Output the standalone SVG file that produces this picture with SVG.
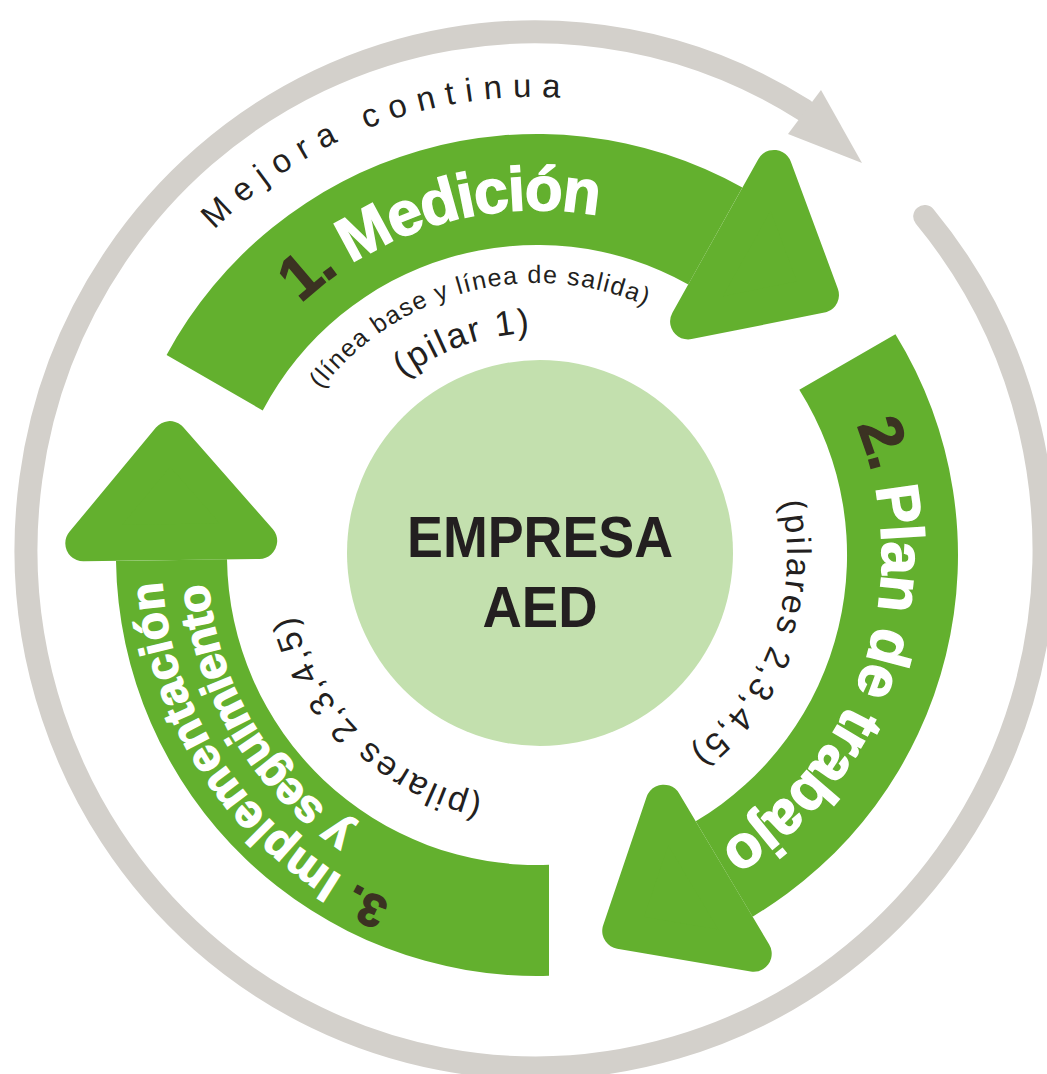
<svg xmlns="http://www.w3.org/2000/svg" xmlns:xlink="http://www.w3.org/1999/xlink" width="1047" height="1074" viewBox="0 0 1047 1074">
<style>
.green{fill:#63b02e}
.headp{fill:#63b02e;stroke:#63b02e;stroke-width:36;stroke-linejoin:round}
.big{font-family:"Liberation Sans",Arial,sans-serif;font-weight:700;fill:#ffffff;stroke:#ffffff;stroke-width:1.4}
.num{fill:#3b3222;stroke:#3b3222}
.thin{font-family:"Liberation Sans",Arial,sans-serif;font-weight:400;fill:#231f20}
.center{font-family:"Liberation Sans",Arial,sans-serif;font-weight:700;fill:#231f20}
</style>
<defs>
<g id="arrowShape">
<path d="M549,975.8 A421,421 0 0 1 116.0,560.9 L227.0,559.3 A310,310 0 0 0 549,864.8 Z" class="green"/>
<polygon points="83.3,543.3 169.8,439.1 259.2,540.9" class="headp"/>
</g>
<path id="c345" d="M192,555 A345,345 0 1 1 882,555 A345,345 0 1 1 192,555"/>
<path id="c272" d="M265,555 A272,272 0 1 1 809,555 A272,272 0 1 1 265,555"/>
<path id="c222" d="M315,555 A222,222 0 1 1 759,555 A222,222 0 1 1 315,555"/>
<path id="c250" d="M287,555 A250,250 0 1 1 787,555 A250,250 0 1 1 287,555"/>
<path id="c376" d="M161,555 A376,376 0 1 1 913,555 A376,376 0 1 1 161,555"/>
<path id="c330" d="M207,555 A330,330 0 1 1 867,555 A330,330 0 1 1 207,555"/>
<path id="c449" d="M84,546 A449,449 0 1 1 982,546 A449,449 0 1 1 84,546"/>
</defs>
<rect width="1047" height="1074" fill="#ffffff"/>
<g id="connectors">
<g id="mejora-continua">
<path d="M924.7,216.5 A509,518 0 1 1 804,110" fill="none" stroke="#d3d0cb" stroke-width="23" stroke-linecap="round"/>
<polygon points="821,90 862,163 788,134" fill="#d3d0cb"/>
<text class="thin" font-size="33"><textPath href="#c449" startOffset="19.2%" text-anchor="middle" textLength="382" lengthAdjust="spacing">Mejora continua</textPath></text>
</g>
</g>
<g id="empresa">
<circle cx="540" cy="553" r="193" fill="#c3e0ae"/>
<text class="center" x="540" y="557" font-size="58" text-anchor="middle" textLength="266" lengthAdjust="spacingAndGlyphs">EMPRESA</text>
<text class="center" x="540" y="627" font-size="58" text-anchor="middle" textLength="115" lengthAdjust="spacingAndGlyphs">AED</text>
</g>
<g id="medicion">
<use href="#arrowShape" transform="rotate(120 537 555)"/>
<text class="big" font-size="62"><textPath href="#c345" startOffset="20.42%" text-anchor="middle" textLength="322" lengthAdjust="spacing"><tspan class="num">1.</tspan> Medición</textPath></text>
<text class="thin" font-size="25"><textPath href="#c272" startOffset="20.97%" text-anchor="middle" textLength="361" lengthAdjust="spacing">(línea base y línea de salida)</textPath></text>
<text class="thin" font-size="35"><textPath href="#c222" startOffset="19.58%" text-anchor="middle" textLength="136" lengthAdjust="spacing">(pilar 1)</textPath></text>
</g>
<g id="plan-trabajo">
<use href="#arrowShape" transform="rotate(240 537 555)"/>
<text class="big" font-size="60"><textPath href="#c345" startOffset="55%" text-anchor="middle" textLength="482" lengthAdjust="spacing"><tspan class="num">2.</tspan> Plan de trabajo</textPath></text>
<text class="thin" font-size="34"><textPath href="#c250" startOffset="55.5%" text-anchor="middle" textLength="280" lengthAdjust="spacing">(pilares 2,3,4,5)</textPath></text>
</g>
<g id="implementacion">
<use href="#arrowShape"/>
<text class="big" font-size="46"><textPath href="#c376" startOffset="90.14%" text-anchor="middle" textLength="413" lengthAdjust="spacing"><tspan class="num">3.</tspan> Implementación</textPath></text>
<text class="big" font-size="46"><textPath href="#c330" startOffset="91.46%" text-anchor="middle" textLength="297" lengthAdjust="spacing">y seguimiento</textPath></text>
<text class="thin" font-size="34"><textPath href="#c250" startOffset="87.3%" text-anchor="middle" textLength="276" lengthAdjust="spacing">(pilares 2,3,4,5)</textPath></text>
</g>
</svg>
